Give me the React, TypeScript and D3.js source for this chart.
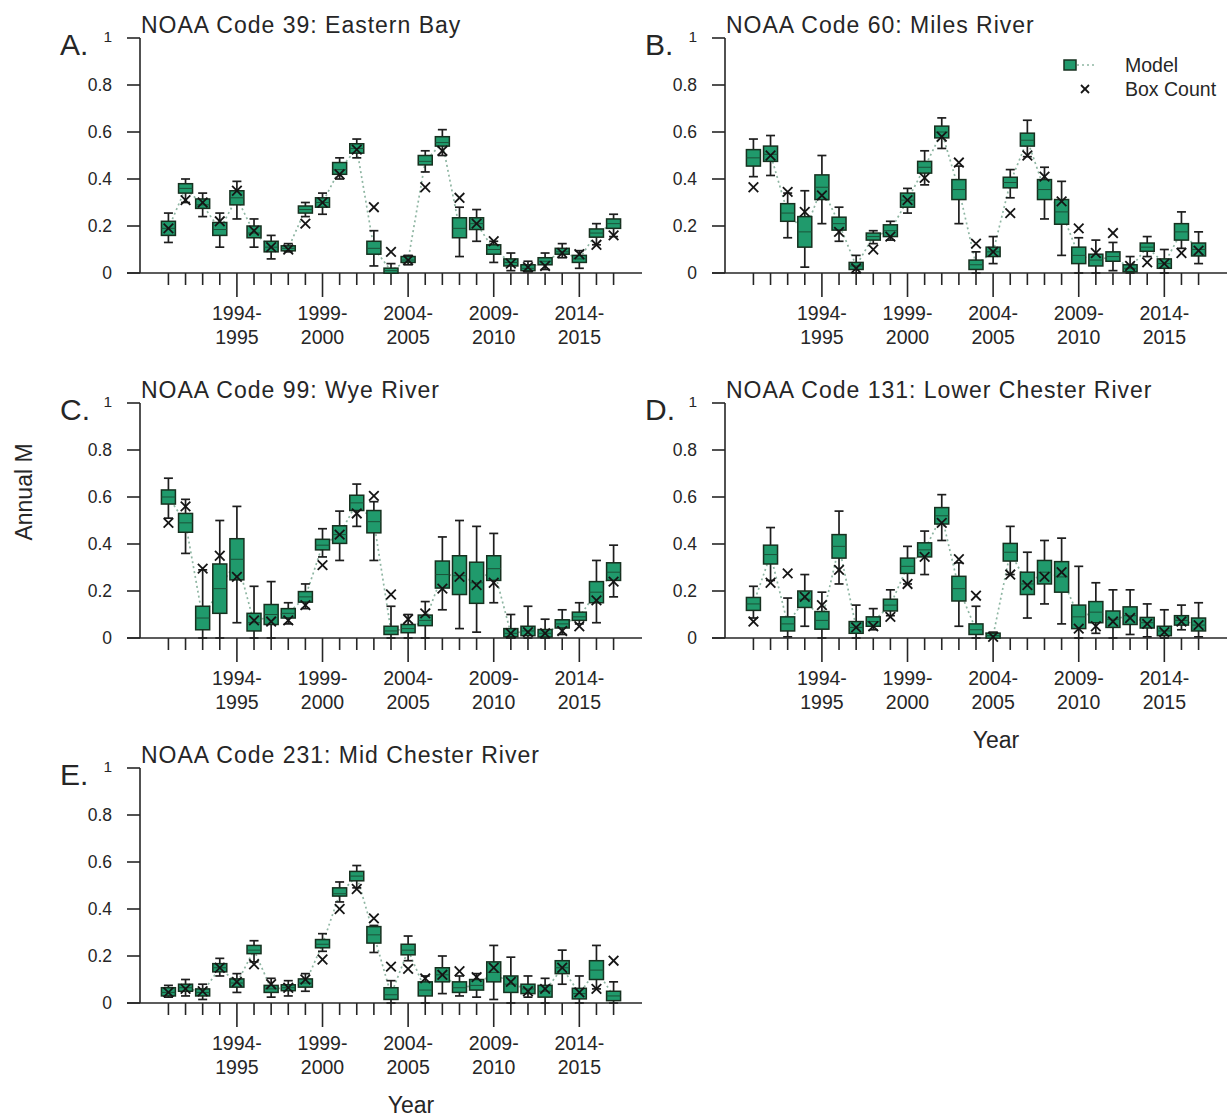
import React from "react";
import * as d3 from "d3";

// Seasons (categories) on the x axis
const seasons = [
  "1990-1991", "1991-1992", "1992-1993", "1993-1994", "1994-1995", "1995-1996", "1996-1997",
  "1997-1998", "1998-1999", "1999-2000", "2000-2001", "2001-2002", "2002-2003", "2003-2004",
  "2004-2005", "2005-2006", "2006-2007", "2007-2008", "2008-2009", "2009-2010", "2010-2011",
  "2011-2012", "2012-2013", "2013-2014", "2014-2015", "2015-2016", "2016-2017",
];
const labeledSeasons = ["1994-1995", "1999-2000", "2004-2005", "2009-2010", "2014-2015"];
const yTicks = [0, 0.2, 0.4, 0.6, 0.8, 1];

// Each row: [whisker low, q1, median, q3, whisker high, box count]
const eastern39 = [
  [0.13, 0.16, 0.19, 0.22, 0.255, 0.19],
  [0.30, 0.34, 0.36, 0.38, 0.40, 0.31],
  [0.24, 0.275, 0.29, 0.315, 0.34, 0.30],
  [0.11, 0.16, 0.185, 0.215, 0.255, 0.22],
  [0.23, 0.29, 0.32, 0.35, 0.39, 0.35],
  [0.11, 0.15, 0.17, 0.20, 0.23, 0.18],
  [0.06, 0.09, 0.11, 0.135, 0.16, 0.11],
  [0.09, 0.095, 0.105, 0.115, 0.125, 0.10],
  [0.24, 0.255, 0.27, 0.285, 0.30, 0.21],
  [0.25, 0.28, 0.30, 0.32, 0.34, 0.30],
  [0.40, 0.42, 0.44, 0.47, 0.49, 0.42],
  [0.49, 0.51, 0.53, 0.55, 0.57, 0.525],
  [0.03, 0.08, 0.105, 0.135, 0.18, 0.28],
  [0.0, 0.005, 0.01, 0.02, 0.04, 0.09],
  [0.035, 0.045, 0.055, 0.07, 0.075, 0.055],
  [0.43, 0.46, 0.475, 0.50, 0.52, 0.365],
  [0.50, 0.54, 0.555, 0.58, 0.61, 0.52],
  [0.07, 0.15, 0.19, 0.235, 0.28, 0.32],
  [0.135, 0.185, 0.21, 0.235, 0.27, 0.21],
  [0.045, 0.075, 0.10, 0.115, 0.135, 0.135],
  [0.01, 0.03, 0.045, 0.06, 0.085, 0.04],
  [0.005, 0.01, 0.02, 0.035, 0.05, 0.025],
  [0.015, 0.035, 0.05, 0.065, 0.085, 0.03],
  [0.065, 0.08, 0.09, 0.105, 0.125, 0.085],
  [0.02, 0.045, 0.06, 0.075, 0.095, 0.08],
  [0.12, 0.15, 0.17, 0.185, 0.21, 0.12],
  [0.155, 0.19, 0.21, 0.23, 0.25, 0.16],
];

const miles60 = [
  [0.41, 0.45, 0.49, 0.52, 0.57, 0.365],
  [0.415, 0.475, 0.505, 0.54, 0.585, 0.50],
  [0.15, 0.22, 0.255, 0.295, 0.34, 0.345],
  [0.025, 0.11, 0.175, 0.24, 0.35, 0.26],
  [0.21, 0.305, 0.365, 0.41, 0.50, 0.33],
  [0.135, 0.175, 0.21, 0.23, 0.28, 0.175],
  [0.0, 0.015, 0.03, 0.045, 0.075, 0.02],
  [0.125, 0.14, 0.155, 0.17, 0.18, 0.10],
  [0.14, 0.155, 0.18, 0.205, 0.22, 0.155],
  [0.255, 0.28, 0.31, 0.34, 0.36, 0.31],
  [0.375, 0.425, 0.45, 0.475, 0.52, 0.405],
  [0.53, 0.575, 0.60, 0.625, 0.66, 0.58],
  [0.21, 0.305, 0.355, 0.39, 0.455, 0.47],
  [0.0, 0.015, 0.035, 0.055, 0.09, 0.125],
  [0.04, 0.07, 0.09, 0.11, 0.155, 0.09],
  [0.32, 0.36, 0.385, 0.405, 0.44, 0.255],
  [0.495, 0.54, 0.565, 0.595, 0.65, 0.50],
  [0.23, 0.31, 0.355, 0.395, 0.45, 0.41],
  [0.075, 0.205, 0.26, 0.31, 0.39, 0.305],
  [0.0, 0.04, 0.075, 0.11, 0.15, 0.19],
  [0.0, 0.03, 0.055, 0.08, 0.14, 0.085],
  [0.01, 0.05, 0.07, 0.09, 0.13, 0.17],
  [0.0, 0.005, 0.02, 0.035, 0.07, 0.03],
  [0.07, 0.09, 0.11, 0.125, 0.155, 0.045],
  [0.0, 0.02, 0.04, 0.06, 0.10, 0.04],
  [0.105, 0.14, 0.175, 0.21, 0.26, 0.085],
  [0.04, 0.07, 0.10, 0.125, 0.175, 0.095],
];

const wye99 = [
  [0.51, 0.57, 0.60, 0.63, 0.68, 0.49],
  [0.36, 0.45, 0.49, 0.53, 0.59, 0.56],
  [0.0, 0.035, 0.085, 0.135, 0.29, 0.295],
  [0.0, 0.105, 0.21, 0.315, 0.50, 0.35],
  [0.065, 0.24, 0.335, 0.415, 0.56, 0.26],
  [0.0, 0.03, 0.065, 0.105, 0.22, 0.075],
  [0.0, 0.05, 0.10, 0.135, 0.24, 0.07],
  [0.06, 0.085, 0.105, 0.125, 0.15, 0.075],
  [0.125, 0.15, 0.175, 0.195, 0.23, 0.14],
  [0.345, 0.375, 0.395, 0.42, 0.465, 0.31],
  [0.33, 0.40, 0.44, 0.475, 0.54, 0.44],
  [0.475, 0.535, 0.575, 0.60, 0.655, 0.53],
  [0.33, 0.445, 0.495, 0.54, 0.58, 0.605],
  [0.0, 0.015, 0.03, 0.05, 0.135, 0.185],
  [0.0, 0.02, 0.04, 0.055, 0.10, 0.08],
  [0.0, 0.05, 0.075, 0.095, 0.155, 0.105],
  [0.12, 0.21, 0.27, 0.325, 0.43, 0.21],
  [0.04, 0.185, 0.265, 0.35, 0.50, 0.26],
  [0.025, 0.14, 0.235, 0.315, 0.475, 0.225],
  [0.15, 0.245, 0.295, 0.35, 0.445, 0.235],
  [0.0, 0.005, 0.02, 0.04, 0.10, 0.02],
  [0.0, 0.01, 0.03, 0.05, 0.135, 0.025],
  [0.0, 0.003, 0.02, 0.035, 0.08, 0.02],
  [0.015, 0.04, 0.06, 0.075, 0.12, 0.03],
  [0.06, 0.075, 0.09, 0.11, 0.15, 0.05],
  [0.065, 0.145, 0.195, 0.235, 0.33, 0.16],
  [0.175, 0.245, 0.28, 0.32, 0.395, 0.24],
];

const lowerChester131 = [
  [0.085, 0.115, 0.145, 0.17, 0.22, 0.07],
  [0.245, 0.31, 0.355, 0.39, 0.47, 0.235],
  [0.005, 0.025, 0.06, 0.085, 0.17, 0.275],
  [0.05, 0.125, 0.165, 0.195, 0.27, 0.175],
  [0.0, 0.035, 0.075, 0.11, 0.195, 0.14],
  [0.23, 0.33, 0.39, 0.43, 0.54, 0.29],
  [0.0, 0.015, 0.045, 0.065, 0.14, 0.045],
  [0.035, 0.05, 0.07, 0.09, 0.125, 0.05],
  [0.095, 0.11, 0.14, 0.16, 0.205, 0.09],
  [0.23, 0.275, 0.305, 0.34, 0.39, 0.23],
  [0.27, 0.34, 0.375, 0.40, 0.455, 0.345],
  [0.415, 0.48, 0.52, 0.55, 0.61, 0.49],
  [0.05, 0.155, 0.21, 0.26, 0.32, 0.335],
  [0.0, 0.015, 0.035, 0.06, 0.135, 0.18],
  [0.0, 0.0, 0.01, 0.015, 0.025, 0.005],
  [0.27, 0.325, 0.365, 0.40, 0.475, 0.27],
  [0.085, 0.185, 0.23, 0.28, 0.365, 0.225],
  [0.145, 0.23, 0.28, 0.33, 0.415, 0.26],
  [0.06, 0.175, 0.26, 0.305, 0.425, 0.28],
  [0.0, 0.03, 0.09, 0.13, 0.305, 0.04],
  [0.02, 0.06, 0.11, 0.15, 0.235, 0.05],
  [0.0, 0.04, 0.08, 0.11, 0.205, 0.07],
  [0.015, 0.055, 0.095, 0.13, 0.205, 0.085],
  [0.005, 0.04, 0.065, 0.085, 0.145, 0.06],
  [0.0, 0.01, 0.03, 0.05, 0.12, 0.025],
  [0.035, 0.055, 0.075, 0.095, 0.14, 0.07],
  [0.005, 0.03, 0.055, 0.085, 0.15, 0.055],
];

const midChester231 = [
  [0.025, 0.03, 0.045, 0.065, 0.075, 0.045],
  [0.03, 0.045, 0.065, 0.075, 0.10, 0.06],
  [0.015, 0.03, 0.045, 0.06, 0.08, 0.05],
  [0.115, 0.13, 0.15, 0.165, 0.19, 0.15],
  [0.045, 0.065, 0.085, 0.10, 0.125, 0.09],
  [0.175, 0.21, 0.225, 0.245, 0.265, 0.165],
  [0.025, 0.045, 0.06, 0.075, 0.105, 0.08],
  [0.03, 0.05, 0.065, 0.075, 0.095, 0.065],
  [0.05, 0.065, 0.085, 0.10, 0.125, 0.10],
  [0.22, 0.235, 0.25, 0.27, 0.295, 0.185],
  [0.43, 0.455, 0.465, 0.49, 0.515, 0.40],
  [0.49, 0.52, 0.54, 0.56, 0.585, 0.485],
  [0.215, 0.25, 0.29, 0.32, 0.33, 0.36],
  [0.0, 0.015, 0.035, 0.065, 0.095, 0.155],
  [0.18, 0.205, 0.225, 0.25, 0.285, 0.145],
  [0.0, 0.03, 0.055, 0.09, 0.115, 0.105],
  [0.04, 0.09, 0.12, 0.15, 0.20, 0.12],
  [0.03, 0.045, 0.065, 0.09, 0.115, 0.135],
  [0.025, 0.055, 0.075, 0.10, 0.125, 0.11],
  [0.015, 0.09, 0.13, 0.175, 0.245, 0.15],
  [0.0, 0.045, 0.08, 0.115, 0.195, 0.09],
  [0.025, 0.04, 0.06, 0.08, 0.115, 0.05],
  [0.0, 0.025, 0.05, 0.075, 0.105, 0.06],
  [0.08, 0.125, 0.15, 0.18, 0.225, 0.15],
  [0.0, 0.015, 0.04, 0.06, 0.115, 0.045],
  [0.06, 0.10, 0.14, 0.18, 0.245, 0.06],
  [0.0, 0.01, 0.03, 0.05, 0.09, 0.18],
];

const panels = [
  { letter: "A.", title: "NOAA Code 39: Eastern Bay", data: eastern39, col: 0, row: 0 },
  { letter: "B.", title: "NOAA Code 60: Miles River", data: miles60, col: 1, row: 0, legend: true },
  { letter: "C.", title: "NOAA Code 99: Wye River", data: wye99, col: 0, row: 1 },
  { letter: "D.", title: "NOAA Code 131: Lower Chester River", data: lowerChester131, col: 1, row: 1, xTitle: true },
  { letter: "E.", title: "NOAA Code 231: Mid Chester River", data: midChester231, col: 0, row: 2, xTitle: true },
];

const W = 1229;
const H = 1118;
const FONT = "'Liberation Sans', Arial, Helvetica, sans-serif";
const GREEN = "#209a6c";
const BOX_STROKE = "#17301f";
const INK = "#262626";
const colLeft = [140, 725];
const colWidth = 502;
const rowTop = [38, 403, 768];
const plotH = 235;

function Cross({ cx, cy, s = 4.8 }) {
  return (
    <g stroke="#151515" strokeWidth={1.8}>
      <line x1={cx - s} y1={cy - s} x2={cx + s} y2={cy + s} />
      <line x1={cx - s} y1={cy + s} x2={cx + s} y2={cy - s} />
    </g>
  );
}

function Panel({ p }) {
  const x0 = colLeft[p.col];
  const y0 = rowTop[p.row];
  const x = d3.scalePoint().domain(seasons).range([x0, x0 + colWidth]).padding(1.66);
  const y = d3.scaleLinear().domain([0, 1]).range([y0 + plotH, y0]);
  const yBase = y(0);
  const bw = 14;
  const cap = 9;
  const medLine = d3
    .line()
    .x((d, i) => x(seasons[i]))
    .y((d) => y(d[2]));

  return (
    <g>
      <text x={x0 - 80} y={y0 + 17} fontSize={30} fill={INK}>{p.letter}</text>
      <text x={x0 + 1} y={y0 - 5} fontSize={23} letterSpacing={1.0} fill={INK}>{p.title}</text>
      {/* y axis */}
      <line x1={x0} y1={y(1)} x2={x0} y2={yBase} stroke={INK} strokeWidth={1.6} />
      {yTicks.map((t) => (
        <g key={t}>
          <line x1={x0 - 13} x2={x0} y1={y(t)} y2={y(t)} stroke={INK} strokeWidth={1.6} />
          <text
            x={x0 - 28}
            y={t === 1 ? y(t) - 1 : y(t)}
            dy="0.35em"
            textAnchor="end"
            fontSize={t === 1 ? 15.5 : 17.5}
            fill={INK}
          >
            {String(t)}
          </text>
        </g>
      ))}
      {/* x axis */}
      <line x1={x0 - 13} x2={x0 + colWidth} y1={yBase} y2={yBase} stroke={INK} strokeWidth={1.6} />
      {seasons.map((s) => {
        const major = labeledSeasons.includes(s);
        const [a, b] = s.split("-");
        return (
          <g key={s}>
            <line x1={x(s)} x2={x(s)} y1={yBase} y2={yBase + (major ? 24 : 12)} stroke={INK} strokeWidth={1.6} />
            {major && (
              <text x={x(s)} textAnchor="middle" fontSize={19.5} fill={INK}>
                <tspan x={x(s)} y={yBase + 47}>{a + "-"}</tspan>
                <tspan x={x(s)} y={yBase + 71}>{b}</tspan>
              </text>
            )}
          </g>
        );
      })}
      {/* dotted model line */}
      <path d={medLine(p.data)} fill="none" stroke="#8fb6a3" strokeWidth={1.7} strokeDasharray="2 3" />
      {/* boxes */}
      {p.data.map((d, i) => {
        const cx = x(seasons[i]);
        const [lo, q1, med, q3, hi] = d;
        const top = y(q3);
        const h = Math.max(y(q1) - y(q3), 5);
        const boxTop = Math.min(top, y(med) - h / 2);
        return (
          <g key={i}>
            <line x1={cx} x2={cx} y1={y(hi)} y2={y(lo)} stroke="#1e1e1e" strokeWidth={1.7} />
            <line x1={cx - cap / 2} x2={cx + cap / 2} y1={y(hi)} y2={y(hi)} stroke="#1e1e1e" strokeWidth={1.7} />
            <line x1={cx - cap / 2} x2={cx + cap / 2} y1={y(lo)} y2={y(lo)} stroke="#1e1e1e" strokeWidth={1.7} />
            <rect x={cx - bw / 2} y={boxTop} width={bw} height={h} fill={GREEN} stroke={BOX_STROKE} strokeWidth={1.5} />
            <line x1={cx - bw / 2} x2={cx + bw / 2} y1={y(med)} y2={y(med)} stroke="#1b5238" strokeWidth={1} />
          </g>
        );
      })}
      {p.data.map((d, i) => (
        <Cross key={"c" + i} cx={x(seasons[i])} cy={y(d[5])} />
      ))}
      {p.legend && (
        <g>
          <line x1={1072} x2={1094} y1={65} y2={65} stroke="#8fb6a3" strokeWidth={1.7} strokeDasharray="2 3" />
          <rect x={1064} y={60} width={12} height={10} fill={GREEN} stroke={BOX_STROKE} strokeWidth={1.5} />
          <text x={1125} y={65} dy="0.35em" fontSize={19.5} fill={INK}>Model</text>
          <Cross cx={1085} cy={89} s={4} />
          <text x={1125} y={89} dy="0.35em" fontSize={19.5} fill={INK}>Box Count</text>
        </g>
      )}
      {p.xTitle && (
        <text x={x0 + colWidth / 2 + 20} y={yBase + 110} textAnchor="middle" fontSize={23} fill={INK}>Year</text>
      )}
    </g>
  );
}

export default function App() {
  return (
    <svg
      width={W}
      height={H}
      viewBox={`0 0 ${W} ${H}`}
      style={{ position: "absolute", left: 0, top: 0, background: "#fff" }}
      fontFamily={FONT}
    >
      <rect width={W} height={H} fill="#fff" />
      {panels.map((p) => (
        <Panel key={p.letter} p={p} />
      ))}
      <text
        transform={`translate(32, 492) rotate(-90)`}
        textAnchor="middle"
        fontSize={23}
        fill={INK}
      >
        Annual M
      </text>
    </svg>
  );
}
